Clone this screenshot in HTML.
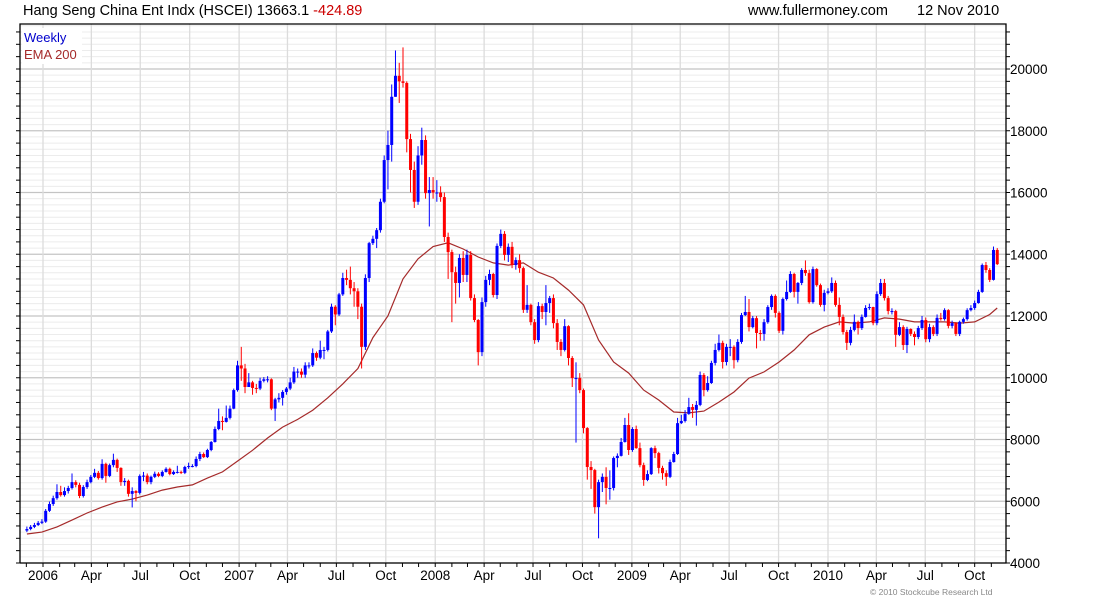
<!DOCTYPE html>
<html><head><meta charset="utf-8"><title>HSCEI weekly</title>
<style>
html,body{margin:0;padding:0;background:#fff;}
svg{display:block;font-family:"Liberation Sans",Arial,sans-serif;}
</style></head>
<body>
<svg id="chart" width="1100" height="600" viewBox="0 0 1100 600" xmlns="http://www.w3.org/2000/svg">
<rect x="0" y="0" width="1100" height="600" fill="#fff"/>
<g id="grid"></g>
<g id="ema"></g>
<g id="candles"></g>
<g id="axes"></g>
<text x="23" y="15" font-size="14.5" fill="#000">Hang Seng China Ent Indx (HSCEI) 13663.1 <tspan fill="#cc0000">-424.89</tspan></text>
<text x="748" y="15" font-size="14.5" fill="#000">www.fullermoney.com</text>
<text x="917" y="15" font-size="14.5" fill="#000">12 Nov 2010</text>
<rect x="22" y="28" width="60" height="36" fill="#fff"/>
<text x="24" y="42" font-size="13" fill="#0000cc">Weekly</text>
<text x="24" y="59" font-size="13" fill="#a52a2a">EMA 200</text>
<text x="870" y="595" font-size="8.5" fill="#888">© 2010 Stockcube Research Ltd</text>
</svg>
<script>
const closes=[5100,5170,5230,5300,5340,5690,5910,6100,6300,6200,6330,6430,6620,6530,6170,6460,6620,6790,6920,6750,7210,6820,7170,7340,7080,6620,6660,6240,6330,6270,6820,6830,6620,6790,6890,6820,6950,7050,6880,6950,6950,6920,7110,7140,7140,7370,7530,7430,7660,7920,8340,8600,8570,8700,9000,9600,10400,10300,9700,9850,9670,9650,9900,9950,9950,9000,9300,9350,9540,9650,9850,10200,10200,10100,10400,10400,10800,10650,10900,10900,11500,12300,12050,12700,13230,13170,12900,12800,12300,11000,13230,14360,14500,14780,15700,17050,17540,19100,19780,19600,19550,17730,16730,15700,17200,17700,15980,16080,16000,16000,15850,14560,14070,13420,13070,13880,13330,13980,12580,11870,10830,12450,13170,13360,12680,14270,14660,13980,14240,13650,13810,13550,12200,12360,11800,11220,12320,12130,12420,12580,11770,11160,10900,11670,10640,9990,9990,9600,8370,7110,7010,5810,6620,6790,6430,6430,7400,7470,7920,8470,7660,8340,7720,7170,6690,6880,7720,7560,7080,6910,6790,7270,7530,8530,8600,8830,9050,8960,9120,10090,9600,9830,10480,10900,11130,10510,11000,11000,10570,11160,12030,12130,11640,11930,11450,11420,11800,12290,12650,12100,11520,12550,12780,13360,12780,13070,13490,13390,12450,13520,13000,12360,12750,12800,13070,12360,11970,11480,11130,11550,11810,11610,11970,12260,12290,11770,12710,13070,12580,12160,12160,11390,11640,11060,11580,11420,11320,11610,11870,11250,11640,11420,11940,11900,12190,11680,11770,11420,11810,11900,12190,12260,12420,12780,13650,13490,13170,14140,13680];
const highs=[5180,5230,5300,5360,5420,5750,5990,6180,6550,6500,6450,6500,6900,6680,6600,6520,6700,6850,7050,6980,7360,7250,7220,7540,7380,7100,6750,6700,6450,6360,6870,6950,6900,6830,6960,6940,7000,7100,7090,7000,7150,6990,7150,7250,7200,7450,7600,7580,7700,7950,8420,9000,8750,9100,9100,9650,10550,11000,10450,10150,9900,9800,10000,10020,10050,9980,9350,9500,9600,9700,10000,10350,10300,10300,10500,10500,10950,10850,11200,11000,11550,12400,12350,12750,13400,13500,13600,13100,12900,12400,13350,14400,14600,14850,15800,17200,18000,19500,20600,20200,20700,19600,17900,17000,17500,18100,17850,16500,16500,16400,16200,16000,14700,14150,13600,14000,14100,14150,14100,12700,11900,12600,13300,13500,13400,14350,14800,14750,14350,14400,13900,14000,13600,13000,12400,11900,12450,12400,13000,12650,12700,11900,11250,11900,11700,10700,10500,10150,9650,8400,7300,7050,6700,6900,7100,7000,7450,7550,8050,8700,8850,8400,8450,7900,7250,7000,7750,7800,7600,7150,7000,7350,7600,8700,8800,8950,9350,9150,9250,10200,10150,10050,10550,11100,11400,11200,11100,11250,11050,11250,12100,12650,12550,12000,12000,11550,11900,12350,12700,12700,12150,12600,13150,13450,13400,13100,13550,13800,13500,13600,13550,13050,12850,12900,13250,13150,12600,12050,11550,11650,12050,11850,12050,12350,12400,12300,12800,13200,13200,12650,12250,12200,11800,11700,11650,11600,11500,11680,12000,11950,11750,11700,12050,12100,12250,12220,11850,11800,11850,11950,12250,12350,12500,12850,13700,13750,13550,14250,14200];
const lows=[5000,5060,5130,5200,5260,5300,5650,5850,6050,6150,6150,6250,6380,6450,6100,6120,6400,6580,6750,6700,6700,6600,6780,7100,6950,6500,6500,6150,5800,6000,6220,6650,6550,6550,6750,6780,6780,6930,6840,6850,6900,6880,6880,7050,7100,7100,7300,7400,7400,7620,7900,8300,8300,8550,8650,8980,9550,9900,9500,9700,9450,9500,9600,9850,9850,8950,8600,9200,9100,9450,9600,9800,10000,10000,10000,10300,10350,10550,10600,10600,10850,11450,11700,12000,12650,13000,12700,12300,11900,10300,10900,13100,14300,14200,14700,15650,16100,17000,19400,18900,19400,17300,16000,15500,15600,16900,15800,14900,15800,15700,15700,14400,13200,11800,12400,12600,13100,13100,12500,11800,10400,10700,12300,13000,12600,12550,14200,13800,13750,13550,13500,13400,12100,12100,11700,11100,11150,11900,11700,12100,11600,10900,10700,10850,10400,9700,7900,9500,8200,6700,6400,5600,4800,6300,5900,6050,6350,7100,7450,7900,7500,7600,7700,7100,6500,6650,6850,7400,6900,6700,6500,6750,7250,7500,8500,8550,8800,8700,8450,9080,9400,9550,9800,10400,10850,10300,10400,10700,10300,10500,11100,12000,11500,11600,10950,11200,11200,11750,12200,11950,11450,11400,12500,12750,12600,12400,13000,13300,12400,12400,12950,12300,12150,12700,12750,12300,11700,11400,10900,11050,11500,11400,11550,11950,12200,11700,11700,12650,12500,12050,12050,11000,11350,10900,10800,11350,11050,11250,11550,11150,11150,11350,11350,11850,11850,11600,11600,11350,11350,11750,11850,12150,12200,12400,12750,13400,13100,13150,13650];
const firstOpen=5050;
const emaWeeks=[0,4,8,12,16,20,24,28,32,36,40,44,48,52,56,60,64,68,72,76,80,84,88,92,96,100,104,108,112,116,120,124,128,132,136,140,144,148,152,156,160,164,168,172,176,180,184,188,192,196,200,204,208,212,216,220,224,228,232,236,240,244,248,252,256,258];
const emaValues=[4940,5000,5170,5390,5620,5810,5980,6070,6200,6360,6460,6530,6750,6950,7300,7650,8050,8400,8650,8950,9350,9800,10300,11300,12000,13200,13850,14250,14370,14170,13910,13720,13650,13720,13420,13230,12840,12360,11220,10510,10150,9600,9280,8890,8860,8920,9210,9540,9990,10190,10510,10900,11390,11640,11810,11770,11810,11940,11900,11810,11810,11810,11770,11810,12050,12260];
const yTicks=[4000,6000,8000,10000,12000,14000,16000,18000,20000];
const monthNames=["Jan","Feb","Mar","Apr","May","Jun","Jul","Aug","Sep","Oct","Nov","Dec"];

const NS="http://www.w3.org/2000/svg";
const L=20,R=1006,T=24,B=563;
const START=Date.UTC(2005,11,2); // first weekly candle
const EPOCH=Date.UTC(2006,0,1);
function xDate(ms){return 43+(ms-EPOCH)/86400000*0.5373;}
function xWeek(i){return xDate(START+i*7*86400000);}
function yVal(v){return B-(v-4000)*0.030875;}
function mk(tag,attrs,parent){const e=document.createElementNS(NS,tag);for(const k in attrs)e.setAttribute(k,attrs[k]);parent.appendChild(e);return e;}

const grid=document.getElementById('grid');
for(let v=4000;v<=21400;v+=200){
  const major=(v%2000===0);
  const ln=mk('line',{x1:L,x2:R,y1:yVal(v),y2:yVal(v),stroke:major?'#c4c4c4':'#ececec','stroke-width':major?1.3:1},grid);
  
  
}
// quarter gridlines
for(let yr=2006;yr<=2010;yr++){for(let m=0;m<12;m+=3){
  const x=xDate(Date.UTC(yr,m,1)); if(x>R)continue;
  const ln=mk('line',{x1:x,x2:x,y1:T,y2:B,stroke:'#dcdcdc','stroke-width':1.3},grid);
  
  
}}

// EMA
const emaG=document.getElementById('ema');
let d='';
emaWeeks.forEach((w,k)=>{d+=(k?'L':'M')+xWeek(w).toFixed(1)+' '+yVal(emaValues[k]).toFixed(1)+' ';});
const emaPath=mk('path',{d:d,fill:'none',stroke:'#a52a2a','stroke-width':1.2},emaG);



// candles
const cg=document.getElementById('candles');
closes.forEach((c,i)=>{
  const o=i?closes[i-1]:firstOpen;
  const col=c>=o?'#0000ff':'#ff0000';
  const x=xWeek(i);
  const g=mk('g',{},cg);
  
  
  const hi=Math.max(highs[i],o,c), lo=Math.min(lows[i],o,c);
  mk('line',{x1:x,x2:x,y1:yVal(hi),y2:yVal(lo),stroke:col,'stroke-width':1},g);
  const top=yVal(Math.max(o,c)), bot=yVal(Math.min(o,c));
  mk('rect',{x:x-1.5,y:top,width:3,height:Math.max(1,bot-top),fill:col},g);
});

// axes
const ax=document.getElementById('axes');
const frame=mk('path',{d:`M${L} ${B}V${T}H${R}V${B}H${L}`,fill:'none',stroke:'#000','stroke-width':1.3},ax);


for(let v=4000;v<=21400;v+=400){
  const y=yVal(v);
  mk('line',{x1:R,x2:R+4,y1:y,y2:y,stroke:'#000'},ax);
  mk('line',{x1:L-4,x2:L,y1:y,y2:y,stroke:'#000'},ax);
}
yTicks.forEach(v=>{
  const t=mk('text',{x:R+4,y:yVal(v)+5,'font-size':13.5,fill:'#000'},ax);
  t.textContent=v;
  
  
});
for(let yr=2005;yr<=2010;yr++){for(let m=0;m<12;m++){
  const x=xDate(Date.UTC(yr,m,1)); if(x<L||x>R)continue;
  mk('line',{x1:x,x2:x,y1:B,y2:B+4,stroke:'#000'},ax);
  if(m%3===0){
    const t=mk('text',{x:x,y:580,'font-size':13.5,'text-anchor':'middle',fill:'#000'},ax);
    t.textContent=m===0?String(yr):monthNames[m];
    
    
  }
}}
</script>
</body></html>
